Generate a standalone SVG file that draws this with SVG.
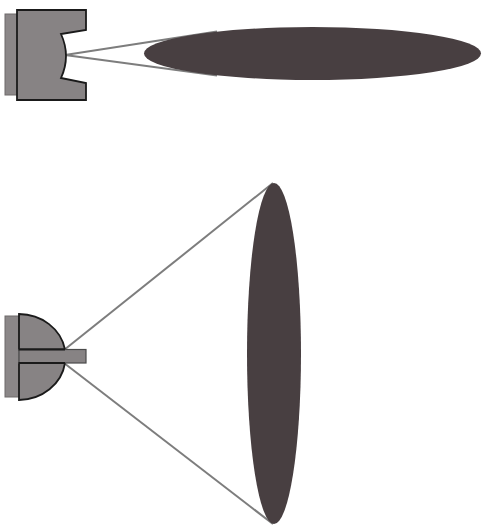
<svg xmlns="http://www.w3.org/2000/svg" width="483" height="525" viewBox="0 0 483 525">
  <style>
    .plate { fill: #8b8788; stroke: #6e6a6b; stroke-width: 1; }
    .body { fill: #878384; stroke: #1a1a1a; stroke-width: 1.8; stroke-linejoin: miter; }
    .bar { fill: #878384; stroke: #4a4a4a; stroke-width: 1.2; }
    .beam { stroke: #7d7d7d; stroke-width: 2; fill: none; }
    .spot { fill: #483f41; }
  </style>
  <rect width="483" height="525" fill="#ffffff"/>

  <!-- beam lines -->
  <g id="connectors">
    <line class="beam" x1="65" y1="55" x2="217" y2="31.5"/>
    <line class="beam" x1="65" y1="55" x2="217" y2="75.5"/>
    <line class="beam" x1="64" y1="350" x2="273" y2="183"/>
    <line class="beam" x1="64" y1="363" x2="273" y2="524"/>
  </g>

  <!-- side-view emitter with concave face -->
  <g id="emitter-top">
    <rect class="plate" x="5" y="14" width="13" height="81"/>
    <path class="body" d="M17 10 H86 V30 L61 34 Q71 56 61 78 L86 83 V100 H17 Z"/>
  </g>

  <!-- narrow spot -->
  <g id="spot-top">
    <ellipse class="spot" cx="312.5" cy="53.5" rx="168.5" ry="26.5"/>
  </g>

  <!-- dome emitter with center bar -->
  <g id="emitter-bottom">
    <rect class="plate" x="5" y="316" width="14" height="81"/>
    <path class="body" d="M19 349.5 V314 A47 43 0 0 1 65 349.5 Z"/>
    <path class="body" d="M19 363 V400 A47 43 0 0 0 65 363 Z"/>
    <rect class="bar" x="19" y="349.5" width="67" height="13.5"/>
    <line x1="19" y1="349.5" x2="65" y2="349.5" stroke="#1a1a1a" stroke-width="1.8"/>
    <line x1="19" y1="363" x2="65" y2="363" stroke="#1a1a1a" stroke-width="1.8"/>
  </g>

  <!-- wide spot -->
  <g id="spot-bottom">
    <ellipse class="spot" cx="274" cy="353.5" rx="27" ry="170.5"/>
  </g>
</svg>
